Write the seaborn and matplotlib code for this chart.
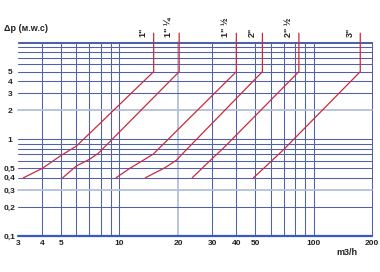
import matplotlib
matplotlib.use("Agg")
import matplotlib.pyplot as plt
import seaborn as sns
import pandas as pd

sns.set_style("white")
plt.rcParams['font.family'] = ['Liberation Sans', 'DejaVu Sans']

# ---- data ----
sizes = ['1"', '1" ¼', '1" ½', '2"', '2" ½', '3"']
flow_1 = [3.2, 4, 5, 6, 15, 15]
dp_1 = [0.4, 0.5, 0.68, 0.85, 5, 12.5]
flow_114 = [5.1, 6, 7, 7.8, 20.3, 20.3]
dp_114 = [0.4, 0.53, 0.62, 0.72, 5, 12.5]
flow_112 = [9.6, 11.3, 14.9, 40, 40]
dp_112 = [0.4, 0.5, 0.7, 5, 12.5]
flow_2 = [13.6, 17.2, 19.7, 21, 54.5, 54.5]
dp_2 = [0.4, 0.51, 0.61, 0.7, 5, 12.5]
flow_212 = [23.7, 30, 34.3, 84, 84]
dp_212 = [0.4, 0.63, 0.81, 5, 12.5]
flow_3 = [49, 55.3, 70, 174, 174]
dp_3 = [0.4, 0.5, 0.78, 5, 12.5]

x_ticks = [3, 4, 5, 10, 20, 30, 40, 50, 100, 200]
x_ticklabels = ['3', '4', '5', '10', '20', '30', '40', '50', '100', '200']
y_ticks = [0.1, 0.2, 0.3, 0.4, 0.5, 1, 2, 3, 4, 5]
y_ticklabels = ['0,1', '0,2', '0,3', '0,4', '0,5', '1', '2', '3', '4', '5']
x_grid = [4, 5, 6, 7, 8, 9, 10, 20, 30, 40, 50, 60, 70, 80, 90, 100, 200]
y_grid = [0.2, 0.3, 0.4, 0.5, 0.6, 0.7, 0.8, 0.9, 1, 2, 3, 4, 5, 6, 7, 8, 9, 10]
light_x = [20]
light_y = [0.3, 2]

flows = [flow_1, flow_114, flow_112, flow_2, flow_212, flow_3]
dps = [dp_1, dp_114, dp_112, dp_2, dp_212, dp_3]

rows = []
for s, fx, fy in zip(sizes, flows, dps):
    for i, (a, b) in enumerate(zip(fx, fy)):
        rows.append({'size': s, 'order': i, 'flow': a, 'dp': b})
df = pd.DataFrame(rows)

fig = plt.figure(figsize=(3.8, 2.72), dpi=100)
ax = fig.add_axes([18 / 380, 36 / 272, 354 / 380, (236 - 41.7) / 272])
ax.set_xscale('log')
ax.set_yscale('log')
ax.set_xlim(3, 200)
ax.set_ylim(0.1, 10.2)

grid_c = '#4f60b0'
light_c = '#b4bfda'
for v in x_grid:
    ln = ax.axvline(v, color=light_c if v in light_x else grid_c,
                    lw=1.3 if v in light_x else 0.75, zorder=1)
    ln.set_snap(True)
for v in y_grid:
    ln = ax.axhline(v, color=light_c if v in light_y else grid_c,
                    lw=1.3 if v in light_y else 0.75, zorder=1)
    ln.set_snap(True)
ax.axhline(10.2, color=grid_c, lw=0.75, zorder=1)
ax.axhline(0.1, color='#3858c8', lw=1.6, zorder=2, clip_on=False)

sns.lineplot(data=df, x='flow', y='dp', hue='size', units='size',
             estimator=None, sort=False, palette=['#cc2a3a'] * len(sizes),
             legend=False, lw=0.9, ax=ax, zorder=3)
for ln in ax.get_lines():
    ln.set_clip_on(False)

for s, fx in zip(sizes, flows):
    ax.annotate(s, xy=(fx[-1], 11.4), xytext=(-7.5, 0), textcoords='offset points',
                rotation=90, ha='center', va='bottom', fontsize=6.5,
                fontweight='bold', color='#222222', annotation_clip=False)

for sp in ax.spines.values():
    sp.set_visible(False)

ax.set_xticks(x_ticks)
ax.set_xticklabels(x_ticklabels)
ax.set_yticks(y_ticks)
ax.set_yticklabels(y_ticklabels)
ax.minorticks_off()
ax.tick_params(axis='both', length=0, labelsize=6, labelcolor='#222222')
ax.tick_params(axis='x', pad=3)
ax.tick_params(axis='y', pad=5.8)
for t in ax.get_yticklabels():
    t.set_horizontalalignment('center')
    t.set_fontweight('bold')
for t in ax.get_xticklabels():
    t.set_fontweight('bold')
ax.set_xlabel('')
ax.set_ylabel('')

fig.text(4 / 380, 1 - 33 / 272, 'Δp (м.w.c)', fontsize=6.5, fontweight='bold',
         color='#222222', ha='left', va='bottom')
fig.text(336 / 380, 1 - 257 / 272, 'm3/h', fontsize=6.5, fontweight='bold',
         color='#222222', ha='left', va='bottom')

fig.savefig('out.png', dpi=100)
